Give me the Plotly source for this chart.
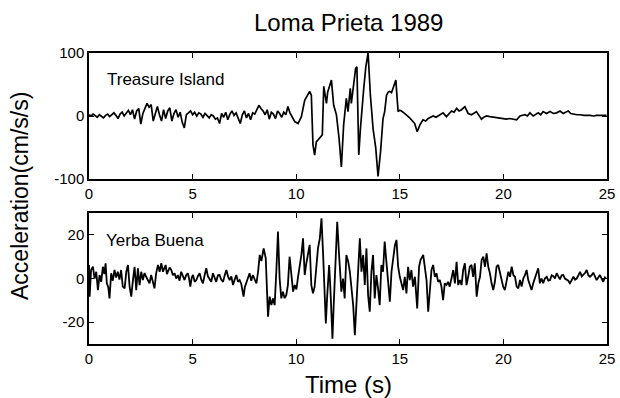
import plotly.graph_objects as go

# Treasure Island record (time s, acceleration cm/s/s)
ti_t = [0.0,0.1,0.2,0.3,0.4,0.5,0.6,0.7,0.8,0.9,1.0,1.1,1.2,1.3,1.4,1.5,1.6,1.7,1.8,1.9,
        2.0,2.1,2.2,2.3,2.4,2.5,2.6,2.7,2.8,2.9,3.0,3.1,3.2,3.3,3.4,3.5,3.6,3.7,3.8,3.9,
        4.0,4.1,4.2,4.3,4.4,4.5,4.6,4.7,4.8,4.9,5.0,5.1,5.2,5.3,5.4,5.5,5.6,5.7,5.8,5.9,
        6.0,6.1,6.2,6.3,6.4,6.5,6.6,6.7,6.8,6.9,7.0,7.1,7.2,7.3,7.4,7.5,7.6,7.7,7.8,7.9,
        8.0,8.1,8.2,8.3,8.4,8.5,8.6,8.7,8.8,8.9,9.0,9.1,
        9.2,9.3,9.4,9.5,9.6,9.7,9.8,9.93,10.09,10.25,10.41,10.55,10.65,10.73,10.81,10.89,10.97,11.05,11.13,11.26,
        11.33,11.4,11.46,11.52,11.58,11.70,11.81,11.94,12.07,12.18,12.29,12.36,12.42,12.50,12.56,12.61,12.66,12.74,12.87,12.93,
        13.02,13.10,13.18,13.26,13.36,13.47,13.58,13.71,13.84,13.95,14.07,14.19,14.27,14.36,14.44,14.52,14.60,14.68,14.81,14.87,
        14.92,15.0,15.08,15.2,15.32,15.45,15.56,15.72,15.84,15.97,16.12,16.25,16.37,16.5,16.61,16.75,16.85,16.97,17.09,17.25,
        17.38,17.50,17.62,17.74,17.86,17.98,18.14,18.30,18.46,18.58,18.70,18.82,18.94,19.05,19.19,19.35,19.51,19.67,19.83,20.0,
        20.15,20.3,20.48,20.64,20.80,20.92,21.04,21.16,21.28,21.44,21.56,21.68,21.80,21.92,22.08,22.25,22.41,22.57,22.73,22.89,
        23.0,23.13,23.25,23.38,23.55,23.70,23.9,24.18,24.35,24.50,24.7,24.98]
ti_a = [2,0,3,1,-2,2,0,-3,1,3,-1,2,5,1,-4,3,6,0,5,9,
        2,10,-5,8,12,-13,4,12,20,14,18,-8,3,15,2,-8,10,-4,8,13,
        -8,4,10,-2,6,-10,-19,2,5,8,2,6,0,5,3,-2,4,1,-3,2,
        0,-5,-3,-12,4,-2,6,-6,3,8,1,5,-4,-12,2,8,-3,4,-6,5,
        3,10,17,12,8,2,10,-5,6,3,-4,8,
        4,-2,6,2,15,5,-2,-9,-12,-1,25,33,39,33,-46,-62,-41,-38,-35,-30,
        47,35,20,38,44,57,17,2,-36,-81,-14,12,28,7,30,44,20,41,76,78,
        -62,-20,20,44,78,100,33,-20,-51,-96,-57,-4,7,33,38,39,37,44,57,28,
        7,9,8,5,2,-2,-6,-12,-25,-14,-6,-8,-4,-2,0,-2,0,3,5,-1,
        4,8,6,12,8,10,15,4,2,5,7,1,-5,-2,0,-1,-2,-3,-4,-4,
        -5,-4,-5,-6,0,1,2,0,5,0,3,5,2,7,4,7,4,5,8,4,
        6,8,4,3,2,2,1,1,0,1,1,1]

# Yerba Buena record (time s, acceleration cm/s/s)
yb_t = [0.0,0.03,0.10,0.19,0.27,0.35,0.43,0.51,0.59,0.67,0.74,0.80,0.86,0.93,0.99,1.07,1.15,1.23,1.31,1.39,
        1.47,1.55,1.63,1.72,1.80,1.88,1.96,2.04,2.12,2.20,2.28,2.36,2.44,2.52,2.60,2.68,2.76,2.84,2.92,3.00,
        3.08,3.16,3.24,3.33,3.41,3.49,3.57,3.63,3.70,3.76,3.81,3.89,3.97,4.05,4.13,4.21,4.29,4.37,4.45,4.53,
        4.61,4.69,4.77,4.83,4.89,4.96,5.02,5.10,5.18,5.26,5.34,5.42,5.50,5.58,5.66,5.74,5.82,5.90,5.98,6.06,
        6.14,6.22,6.30,6.38,6.47,6.55,6.63,6.71,6.79,6.87,6.95,7.03,7.11,7.19,7.27,7.35,7.46,7.52,7.59,7.67,
        7.75,7.83,7.91,8.00,8.08,8.16,8.24,8.32,8.43,8.53,8.59,8.64,8.72,8.80,8.88,8.96,9.04,9.12,9.20,9.28,
        9.36,9.44,9.52,9.60,9.68,9.77,9.85,9.93,10.01,10.09,10.17,10.25,10.33,10.41,10.49,10.57,10.65,10.73,10.81,10.89,
        10.97,11.05,11.14,11.22,11.30,11.38,11.43,11.49,11.59,11.65,11.75,11.81,11.91,11.98,12.07,12.18,12.26,12.34,12.42,12.51,
        12.59,12.67,12.75,12.83,12.91,12.99,13.07,13.15,13.23,13.31,13.39,13.47,13.55,13.63,13.71,13.79,13.87,13.95,14.03,14.11,
        14.19,14.27,14.36,14.44,14.52,14.60,14.68,14.76,14.84,14.92,15.00,15.08,15.16,15.24,15.32,15.40,15.48,15.56,15.64,15.73,
        15.84,15.93,16.00,16.13,16.21,16.29,16.37,16.45,16.53,16.61,16.69,16.77,16.85,16.93,17.01,17.09,17.17,17.25,17.33,17.41,
        17.50,17.58,17.66,17.74,17.82,17.90,17.98,18.06,18.14,18.22,18.30,18.38,18.46,18.54,18.62,18.71,18.79,18.87,18.95,19.03,
        19.11,19.19,19.27,19.35,19.43,19.51,19.59,19.67,19.75,19.83,19.91,19.99,20.07,20.15,20.24,20.32,20.40,20.48,20.56,20.64,
        20.72,20.80,20.88,20.96,21.04,21.12,21.20,21.28,21.36,21.44,21.52,21.60,21.68,21.76,21.84,21.92,22.00,22.09,22.17,22.25,
        22.33,22.41,22.49,22.57,22.65,22.73,22.81,22.89,22.97,23.05,23.13,23.21,23.30,23.38,23.46,23.54,23.62,23.70,23.78,23.86,
        23.94,24.02,24.10,24.18,24.26,24.34,24.42,24.50,24.58,24.66,24.74,24.82,24.90,24.95]
yb_a = [6.2,-8.3,3.9,5.4,0,3.1,-5.3,1.6,-1.5,5.4,2,7,-2.2,-4,-9.1,2.4,-1,3.9,0.5,3.1,
        -0.5,3.9,-3.7,-4.5,3.1,6.2,-3.7,-8.3,-0.7,5.4,-5.3,4.7,-3,3.1,-0.7,2.5,0.8,-1,-2.2,1.6,
        -1,-4.5,2.4,6.2,3.1,7,3.1,4.5,6.2,2,3.1,5,3.9,1.5,2.4,0,1.6,-1,3.1,1,
        -0.7,1.5,2.4,0,-3.7,0.5,1.6,-1.5,-0.7,1.2,2.4,-0.5,-2.2,1.5,4.7,1,0,-1.5,2.4,0.5,
        -1.5,1.5,1.6,-0.5,-1.5,1.5,3.9,1,-0.7,1,-3,-0.5,1.6,-1.5,-0.7,-2.5,-8.3,-4,-2.2,0.5,
        2.4,-1,1.6,-0.5,-2.2,3.1,10.8,8,13.8,9.3,-9.1,-17.5,-8.3,-12.2,-9.1,-12.2,3.1,21.5,0,-9.1,
        -6,-9,-7.6,-3,10,0.8,-6,-3,-5,0.8,5.4,10.8,18.4,1.6,7,11.5,15.4,-3,-6.8,-3.7,
        7,13.8,18.4,27.6,10.8,-15.2,-20.6,-9.1,6.2,-4.5,-27.6,-12.2,15.4,26,10.8,-6,0,-9.1,10.8,7.7,
        3.1,-6,-12.2,-26,-12.2,3.1,18.4,3.1,10.8,-3,13.8,-7.6,-15.2,3.1,10.8,-9.1,1.6,-4.5,-12.2,6.2,
        3.1,16.9,6.2,-4.5,-10.6,3.1,9.3,15,17.7,5.4,0.8,-2,-5.3,0.8,-6.8,5.4,-0.7,3.9,-3.7,0.8,
        -13.7,5.4,8.5,10.8,5.4,-0.7,-15.2,-3.7,3.9,6.2,0.8,2.4,-1.5,-0.7,-3.7,-9.9,-2.2,-3,-1.5,-3.7,
        0.8,3.9,-2.2,7.7,-3,-0.7,-3,3.9,7,-3,0.8,5.4,6.2,0.8,7,-8.3,-2.2,0.8,8.5,10,
        5.4,11.5,5.4,2.4,-2.2,-5.3,-1.5,5.4,6.2,3.1,0.8,-3.7,-5.3,-0.7,3.1,0.8,5.4,1.6,0.8,-3.7,
        -4.5,-0.7,-3.7,0,1.5,3.9,-0.7,-3,-5.3,-2.2,0,2,4.7,-2.2,0,-2.2,0,0.8,-1,-0.7,
        1.5,1.1,0,2.4,1,-0.4,1.5,1.6,0,-0.7,-1,-2.2,-0.5,0.8,-0.5,0,1.5,3.1,1,1.6,
        2.5,3.9,1.5,0.8,1.5,2.7,0.5,-0.7,0.5,1.6,0,-1.5,0.5,0]

x_ticks = [0, 5, 10, 15, 20, 25]
ti_yticks = [-100, 0, 100]
yb_yticks = [-20, 0, 20]

FONT = "Liberation Sans, Arial, Helvetica, sans-serif"

fig = go.Figure()
fig.add_trace(go.Scatter(x=ti_t, y=ti_a, mode="lines", line=dict(color="black", width=1.7),
                         xaxis="x", yaxis="y", showlegend=False))
fig.add_trace(go.Scatter(x=yb_t, y=yb_a, mode="lines", line=dict(color="black", width=1.8),
                         xaxis="x2", yaxis="y2", showlegend=False))

axis_common = dict(showline=True, linecolor="black", linewidth=1.5, mirror="ticks",
                   ticks="inside", ticklen=5, tickwidth=1, tickcolor="black",
                   showgrid=False, zeroline=False, automargin=False,
                   tickfont=dict(family=FONT, size=15, color="black"))

fig.update_layout(
    width=620, height=398,
    margin=dict(l=89, r=13, t=53, b=54, autoexpand=False),
    paper_bgcolor="white", plot_bgcolor="white",
    font=dict(family=FONT, color="black"),
    xaxis=dict(domain=[0, 1], range=[0, 25], tickvals=x_ticks, anchor="y", **axis_common),
    yaxis=dict(domain=[0.567, 1.0], range=[-100, 100], tickvals=ti_yticks,
               ticktext=[str(v) for v in ti_yticks], anchor="x", **axis_common),
    xaxis2=dict(domain=[0, 1], range=[0, 25], tickvals=x_ticks, anchor="y2", **axis_common),
    yaxis2=dict(domain=[0, 0.450], range=[-30, 30], tickvals=yb_yticks,
                ticktext=[str(v) for v in yb_yticks], anchor="x2", **axis_common),
    annotations=[
        dict(text="Loma Prieta 1989", x=0.5, y=1.105, xref="paper", yref="paper",
             xanchor="center", yanchor="middle", showarrow=False,
             font=dict(family=FONT, size=24, color="black")),
        dict(text="Acceleration(cm/s/s)", x=-0.133, y=0.509, xref="paper", yref="paper",
             xanchor="center", yanchor="middle", textangle=-90, showarrow=False,
             font=dict(family=FONT, size=23, color="black")),
        dict(text="Time (s)", x=0.5, y=-0.14, xref="paper", yref="paper",
             xanchor="center", yanchor="middle", showarrow=False,
             font=dict(family=FONT, size=24, color="black")),
        dict(text="Treasure Island", x=0.031, y=0.79, xref="x domain", yref="y domain",
             xanchor="left", yanchor="middle", showarrow=False,
             font=dict(family=FONT, size=17, color="black")),
        dict(text="Yerba Buena", x=0.029, y=0.79, xref="x2 domain", yref="y2 domain",
             xanchor="left", yanchor="middle", showarrow=False,
             font=dict(family=FONT, size=17, color="black")),
    ],
)

fig.write_html("out.html")
